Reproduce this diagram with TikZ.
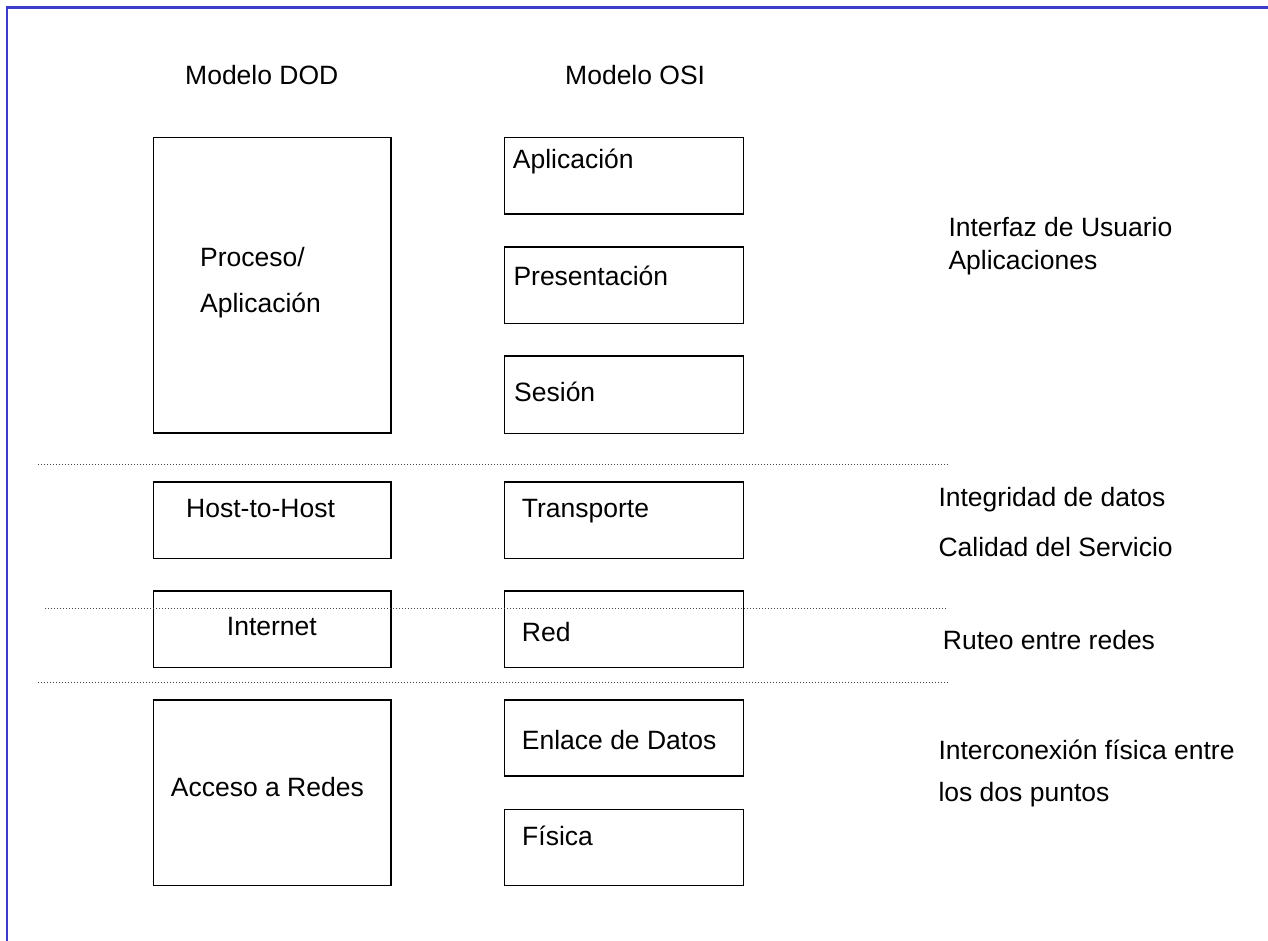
\documentclass[tikz,border=0pt]{standalone}
\usepackage{fontspec}
\setmainfont{Liberation Sans}
\definecolor{framecol}{RGB}{60,60,200}
\definecolor{dotcol}{RGB}{70,70,70}
\tikzset{
  layer/.style={draw=black, line width=1.7pt, inner sep=0pt, anchor=north west, minimum width=#1},
  layer/.default=237.8pt,
  lbl/.style={anchor=base west, inner sep=0pt, font=\fontsize{26.5}{32}\selectfont},
  sep/.style={draw=dotcol, line width=1pt, dash pattern=on 1pt off 2pt},
  frame/.style={draw=framecol, line width=2.2pt}
}
\begin{document}
\begin{tikzpicture}[x=1pt, y=-1pt]
\useasboundingbox (0,0) rectangle (1268,940);

% outer frame (top and left edges)
\coordinate (fbl) at (7,941);
\coordinate (ftl) at (7,7.5);
\coordinate (ftr) at (1269,7.5);
\draw[frame] (fbl) -- (ftl) -- (ftr);

% column headings
\node[lbl] (hdod) at (185,84.5) {Modelo DOD};
\node[lbl] (hosi) at (565,84.5) {Modelo OSI};

% DOD model layers
\node[layer, minimum height=295.8pt] (proc) at (152.5,136.5) {};
\node[layer, minimum height=76.7pt]  (host) at (152.5,480.8) {};
\node[layer, minimum height=76.5pt]  (inet) at (152.5,590) {};
\node[layer, minimum height=185.5pt] (acc)  at (152.5,699) {};

\node[lbl] (tproc1) at (200,266.7) {Proceso/};
\node[lbl] (tproc2) at (200,312.8) {Aplicación};
\node[lbl] (thost)  at (186,517.5) {Host-to-Host};
\node[lbl] (tinet)  at (226.7,635) {Internet};
\node[lbl] (tacc)   at (170.7,796) {Acceso a Redes};

% OSI model layers
\node[layer=239pt, minimum height=76.8pt] (apl)   at (503.5,136.5) {};
\node[layer=239pt, minimum height=76.7pt] (pres)  at (503.5,245.8) {};
\node[layer=239pt, minimum height=77.5pt] (ses)   at (503.5,355) {};
\node[layer=239pt, minimum height=76.7pt] (trans) at (503.5,480.8) {};
\node[layer=239pt, minimum height=76.5pt] (red)   at (503.5,590) {};
\node[layer=239pt, minimum height=76.3pt] (enl)   at (503.5,699) {};
\node[layer=239pt, minimum height=76pt]   (fis)   at (503.5,808.5) {};

\node[lbl] (tapl)   at (512.7,168.3) {Aplicación};
\node[lbl] (tpres)  at (513.3,285) {Presentación};
\node[lbl] (tses)   at (514,401) {Sesión};
\node[lbl] (ttrans) at (521.7,517.5) {Transporte};
\node[lbl] (tred)   at (521.7,641) {Red};
\node[lbl] (tenl)   at (521.7,749) {Enlace de Datos};
\node[lbl] (tfis)   at (522,845) {Física};

% dotted separators between groups
\coordinate (s1a) at (38,464);   \coordinate (s1b) at (948,464);
\coordinate (s2a) at (45,608.3); \coordinate (s2b) at (947,608.3);
\coordinate (s3a) at (38,682.7); \coordinate (s3b) at (948.5,682.7);
\draw[sep] (s1a) -- (s1b);
\draw[sep] (s2a) -- (s2b);
\draw[sep] (s3a) -- (s3b);

% functional descriptions
\node[lbl] (d1a) at (948.3,236.7) {Interfaz de Usuario};
\node[lbl] (d1b) at (948.3,269.3) {Aplicaciones};
\node[lbl] (d2a) at (938.3,506)   {Integridad de datos};
\node[lbl] (d2b) at (938.3,556)   {Calidad del Servicio};
\node[lbl] (d3)  at (942.7,649)   {Ruteo entre redes};
\node[lbl] (d4a) at (938.3,759.3) {Interconexión física entre};
\node[lbl] (d4b) at (938.3,801.7) {los dos puntos};
\end{tikzpicture}
\end{document}
